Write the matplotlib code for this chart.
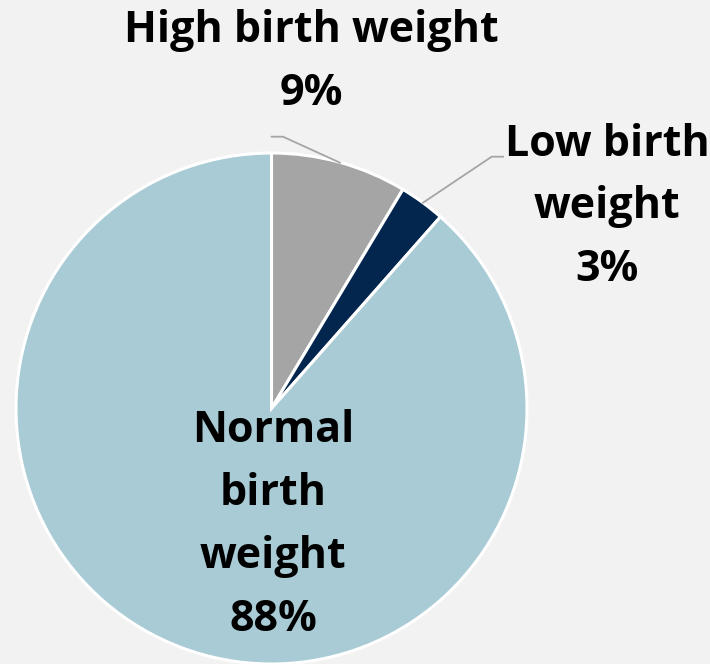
import matplotlib.pyplot as plt

labels = ['High birth weight\n9%', 'Low birth\nweight\n3%', 'Normal\nbirth\nweight\n88%']
values = [8.6, 2.9, 88.5]
colors = ['#a5a5a5', '#03264f', '#a8cbd5']

W, H = 710, 664
fig = plt.figure(figsize=(W / 100, H / 100), dpi=100, facecolor='#f2f2f2')
ax = fig.add_axes([0, 0, 1, 1])

cx, cy, r = 271.5, H - 408.5, 255.5
ax.pie(values, colors=colors, startangle=90, counterclock=False,
       center=(cx, cy), radius=r, frame=True,
       wedgeprops=dict(edgecolor='white', linewidth=2.2))
ax.set_xlim(0, W)
ax.set_ylim(0, H)
ax.set_aspect('equal')
ax.axis('off')

font = dict(family='Open Sans', fontweight='bold', fontsize=31,
            ha='center', va='center', linespacing=1.6, color='black')

ax.text(311, H - 62, labels[0], **font)
ax.text(607, H - 207, labels[1], **font)
ax.text(273, H - 525, labels[2], **font)

# leader lines
ax.plot([271.7, 283, 340], [H - 136.7, H - 136.7, H - 162.7], color='#a5a5a5', lw=1.3)
ax.plot([503, 491.7, 423], [H - 156.7, H - 156.7, H - 202.7], color='#a5a5a5', lw=1.3)

fig.savefig('out.png', dpi=100, facecolor=fig.get_facecolor())
